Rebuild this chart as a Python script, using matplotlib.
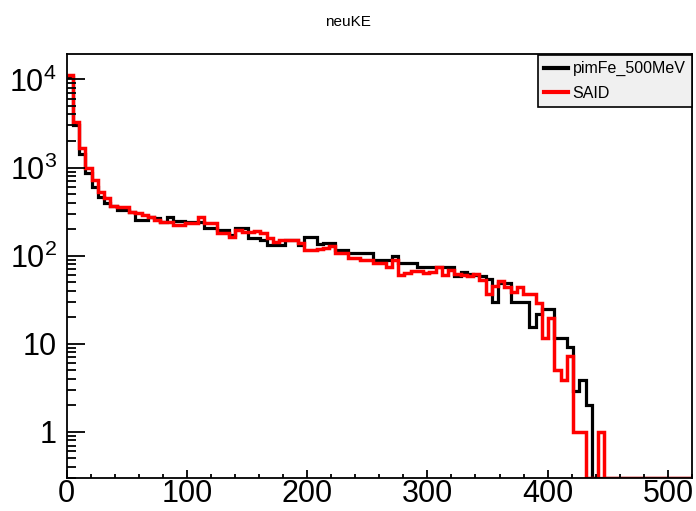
import numpy as np
import matplotlib
matplotlib.use("Agg")
import matplotlib.pyplot as plt
from matplotlib.ticker import FixedLocator, FuncFormatter, LogLocator, NullFormatter, MultipleLocator
from matplotlib.lines import Line2D

plt.rcParams['font.family'] = ['Liberation Sans', 'DejaVu Sans']
plt.rcParams['mathtext.fontset'] = 'custom'
plt.rcParams['mathtext.rm'] = 'Liberation Sans'
plt.rcParams['mathtext.it'] = 'Liberation Sans:italic'
plt.rcParams['mathtext.bf'] = 'Liberation Sans:bold'

# histogram binning: 100 bins from 0 to 520
x_min, x_max, n_bins = 0.0, 520.0, 100

pimFe_500MeV = [
    10500, 3030, 1440, 860, 600, 465, 400, 370, 330, 330,
    315, 255, 255, 277, 265, 243, 277, 245, 245, 240,
    240, 240, 204, 204, 196, 196, 170, 204, 204, 157,
    157, 151, 132, 132, 132, 151, 151, 132, 164, 164,
    135, 140, 140, 116, 116, 108, 108, 106, 106, 90,
    90, 90, 100, 82, 82, 82, 75, 75, 75, 75,
    75, 75, 58, 66, 62, 60, 58, 55, 30, 49,
    49, 30, 30, 30, 15.7, 22, 25, 25, 11.6, 11.6,
    9.3, 2.9, 3.9, 2.0, 0, 0, 0, 0, 0, 0,
    0, 0, 0, 0, 0, 0, 0, 0, 0, 0,
]

SAID = [
    11200, 3300, 1660, 980, 720, 530, 450, 370, 360, 360,
    315, 302, 290, 277, 254, 243, 243, 225, 223, 233,
    233, 272, 233, 233, 179, 179, 164, 196, 187, 187,
    190, 183, 157, 144, 151, 151, 151, 138, 116, 116,
    118, 122, 128, 106, 106, 95, 95, 89, 89, 82,
    82, 75, 89, 60, 63, 67, 67, 63, 66, 75,
    60, 69, 62, 60, 58, 62, 53, 37, 45, 51,
    44, 39, 44, 37, 37, 29, 11.6, 19.5, 5.0, 3.9,
    7.2, 1, 1, 0, 0, 1, 0, 0, 0, 0,
    0, 0, 0, 0, 0, 0, 0, 0, 0, 0,
]

series_names = ["pimFe_500MeV", "SAID"]
series_colors = ["black", "#ff0000"]

y_lo, y_hi = 0.3, 19400.0
x_major = [0, 100, 200, 300, 400, 500]

fig = plt.figure(figsize=(6.96, 5.11), dpi=100)
ax = fig.add_axes([66.5 / 696, 33 / 511, 625.5 / 696, 424 / 511])

edges = np.linspace(x_min, x_max, n_bins + 1)
for vals, col, lw in zip([pimFe_500MeV, SAID], series_colors, [2.3, 2.5]):
    v = np.asarray(vals, dtype=float)
    v = np.where(v > 0, v, y_lo)
    ax.stairs(v, edges, color=col, linewidth=lw, baseline=None)

ax.set_yscale('log')
ax.set_xlim(x_min, x_max)
ax.set_ylim(y_lo, y_hi)

def yfmt(val, pos):
    e = int(round(np.log10(val)))
    if e == 0:
        return "1"
    if e == 1:
        return "10"
    return r"$\mathregular{10^{%d}}$" % e

ax.yaxis.set_major_locator(FixedLocator([1, 10, 100, 1000, 10000]))
ax.yaxis.set_major_formatter(FuncFormatter(yfmt))
ax.yaxis.set_minor_locator(LogLocator(base=10, subs=np.arange(2, 10), numticks=20))
ax.yaxis.set_minor_formatter(NullFormatter())
ax.xaxis.set_major_locator(FixedLocator(x_major))
ax.xaxis.set_minor_locator(MultipleLocator(20))

ax.tick_params(axis='both', which='both', direction='in', top=False, right=False, width=1.3)
ax.tick_params(axis='y', which='major', length=13, labelsize=22, pad=7)
ax.tick_params(axis='y', which='minor', length=6.5)
ax.tick_params(axis='x', which='major', length=6, labelsize=22, pad=1)
ax.tick_params(axis='x', which='minor', length=3)
for s in ax.spines.values():
    s.set_linewidth(1.3)

fig.text(0.5, 1 - 22 / 511, "neuKE", ha='center', va='center', fontsize=11)

handles = [Line2D([0], [0], color=c, lw=3) for c in series_colors]
leg = ax.legend(handles, series_names, loc='upper right', bbox_to_anchor=(1.0, 0.998),
                fontsize=11.5, frameon=True, fancybox=False, handlelength=1.5,
                handletextpad=0.3, borderaxespad=0, labelspacing=0.6, borderpad=0.4)
leg.get_frame().set_edgecolor('black')
leg.get_frame().set_facecolor('#f0f0f0')
leg.get_frame().set_linewidth(1.2)
leg.get_frame().set_alpha(1)

fig.savefig("out.png", dpi=100)
